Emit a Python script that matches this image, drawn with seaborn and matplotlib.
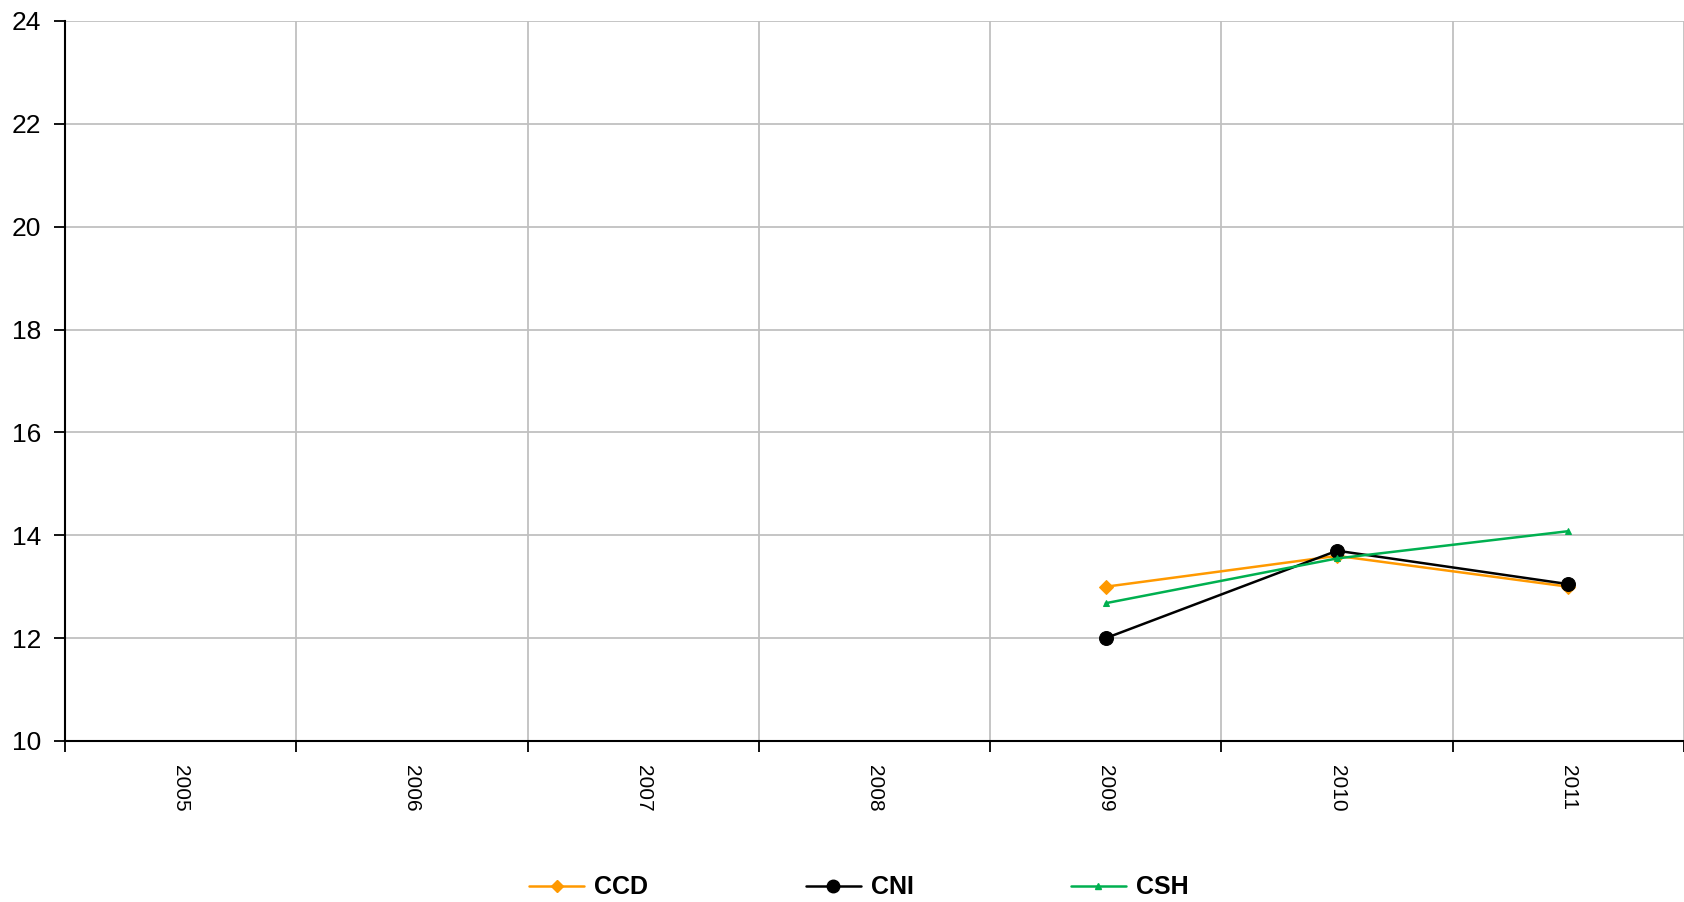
import numpy as np
import pandas as pd
import matplotlib
matplotlib.use("Agg")
import matplotlib.pyplot as plt
import seaborn as sns
from matplotlib.lines import Line2D

years = ["2005", "2006", "2007", "2008", "2009", "2010", "2011"]
ccd = [np.nan, np.nan, np.nan, np.nan, 13.0, 13.6, 13.0]
cni = [np.nan, np.nan, np.nan, np.nan, 12.0, 13.7, 13.05]
csh = [np.nan, np.nan, np.nan, np.nan, 12.68, 13.55, 14.08]
series_names = ["CCD", "CNI", "CSH"]
y_ticks = [10, 12, 14, 16, 18, 20, 22, 24]

sns.set_theme(style="white")
plt.rcParams["font.family"] = ["Liberation Sans", "DejaVu Sans"]
plt.rcParams["text.color"] = "black"
plt.rcParams["xtick.color"] = "black"
plt.rcParams["ytick.color"] = "black"

fig = plt.figure(figsize=(16.84, 9.02), dpi=100)
ax = fig.add_axes([65 / 1684, 1 - 741 / 902, 1 - 65 / 1684, (741 - 21) / 902])

df = pd.DataFrame({
    "pos": list(range(len(years))) * 3,
    "value": ccd + cni + csh,
    "series": [s for s in series_names for _ in years],
})

styles = {
    "CCD": dict(color="#FF9900", marker="D", ms=7, lw=1.8),
    "CNI": dict(color="#000000", marker="o", ms=10, lw=1.8),
    "CSH": dict(color="#00B050", marker="^", ms=5, lw=1.8),
}
for name in series_names:
    st = styles[name]
    sub = df[df["series"] == name].dropna()
    sns.lineplot(data=sub, x="pos", y="value", ax=ax, color=st["color"],
                 marker=st["marker"], markersize=st["ms"], linewidth=st["lw"],
                 markeredgecolor=st["color"], legend=False, zorder=3)

n = len(years)
ax.set_xlim(-0.5, n - 0.5)
ax.set_ylim(10, 24)
ax.set_yticks(y_ticks)
ax.set_yticklabels([str(v) for v in y_ticks], fontsize=19, color="black")
ax.set_xticks(np.arange(-0.5, n, 1.0))
ax.set_xticklabels([])
ax.set_xticks(np.arange(n), minor=True)
ax.set_xticklabels(years, minor=True, rotation=-90, fontsize=15, color="black")
ax.tick_params(axis="x", which="minor", length=0, pad=17)
ax.tick_params(axis="x", which="major", length=8, width=1.3, color="black", direction="out", bottom=True)
ax.tick_params(axis="y", length=8, width=1.3, color="black", direction="out", left=True, pad=9)
ax.set_xlabel("")
ax.set_ylabel("")

ax.grid(True, which="major", color="#C0C0C0", linewidth=1.3)
ax.set_axisbelow(True)
for s in ["top", "right"]:
    ax.spines[s].set_visible(False)
for s in ["left", "bottom"]:
    ax.spines[s].set_color("black")
    ax.spines[s].set_linewidth(1.5)

handles = [Line2D([0], [0], color=styles[nm]["color"], marker=styles[nm]["marker"],
                  markersize=styles[nm]["ms"] * 0.9, linewidth=1.8) for nm in series_names]
leg = fig.legend(handles, series_names, loc="lower center", ncol=3, frameon=False,
                 bbox_to_anchor=(0.510, -0.022), columnspacing=6.3, handlelength=2.2,
                 handletextpad=0.4, prop={"weight": "bold", "size": 18})
for t in leg.get_texts():
    t.set_color("black")

fig.savefig("out.png", dpi=100)
